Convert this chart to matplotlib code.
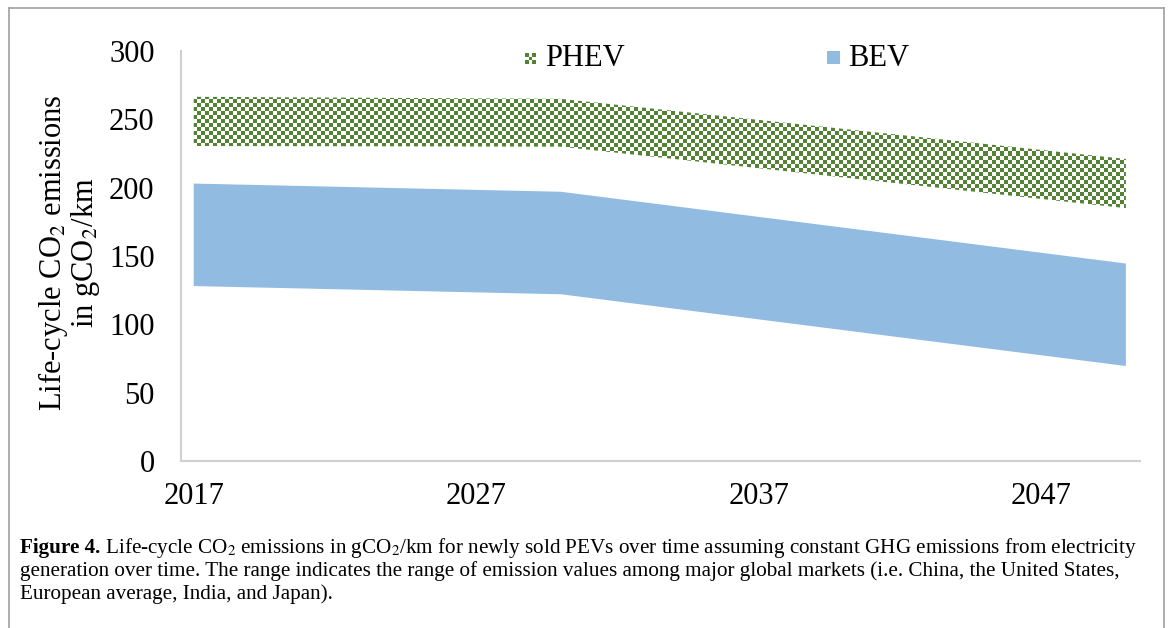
import numpy as np
import matplotlib.pyplot as plt
from matplotlib.lines import Line2D

plt.rcParams['font.family'] = ['Liberation Serif', 'DejaVu Serif']
plt.rcParams['mathtext.fontset'] = 'stix'

# data
years = [2017, 2030, 2050]
bev_low = [128, 122, 69.5]
bev_high = [203, 197, 144.5]
phev_low = [230.5, 230, 185]
phev_high = [266.5, 265, 221]
xticks = [2017, 2027, 2037, 2047]
yticks = [0, 50, 100, 150, 200, 250, 300]

blue = '#92BBE2'
green = '#548235'

W, H = 1168, 628
fig = plt.figure(figsize=(W / 100, H / 100), dpi=100)
ax = fig.add_axes([181 / W, 1 - 461 / H, 959 / W, 410 / H])

ax.fill_between(years, bev_low, bev_high, facecolor=blue, edgecolor='none')

# PHEV: green checkerboard clipped to the band
poly = ax.fill_between(years, phev_low, phev_high, facecolor='none', edgecolor='none')
ny, nx = 410 // 4, 959 // 4
checker = (np.add.outer(np.arange(ny), np.arange(nx)) % 2).astype(float)
cmap = plt.matplotlib.colors.ListedColormap(['white', green])
im = ax.imshow(checker, cmap=cmap, extent=[0, 1, 0, 1], transform=ax.transAxes,
               interpolation='nearest', aspect='auto', zorder=2)
im.set_clip_path(poly.get_paths()[0], ax.transData)

ax.set_xlim(2016.55, 2050.5)
ax.set_ylim(0, 300)
ax.set_xticks(xticks)
ax.set_yticks(yticks)
ax.tick_params(length=0, labelsize=22)
ax.tick_params(axis='x', pad=15)
ax.tick_params(axis='y', pad=19)
for s in ['top', 'right']:
    ax.spines[s].set_visible(False)
for s in ['left', 'bottom']:
    ax.spines[s].set_color('#D0D0D0')
    ax.spines[s].set_linewidth(1.5)

# y label, two centred lines
fig.text(53 / W, 1 - 253 / H, 'Life-cycle CO$_2$ emissions', rotation=90,
         ha='center', va='center', fontsize=22)
fig.text(86 / W, 1 - 253 / H, 'in gCO$_2$/km', rotation=90,
         ha='center', va='center', fontsize=22)

# legend
lax = fig.add_axes([525 / W, 1 - 64 / H, 11 / W, 11 / H])
lax.imshow(1 - np.add.outer(np.arange(3), np.arange(3)) % 2, cmap=cmap,
           interpolation='nearest', aspect='auto')
lax.axis('off')
fig.text(545 / W, 1 - 58 / H, 'PHEV', ha='left', va='center', fontsize=22)
bax = fig.add_axes([827 / W, 1 - 64 / H, 13 / W, 13 / H])
bax.set_facecolor(blue)
bax.set_xticks([])
bax.set_yticks([])
for s in bax.spines.values():
    s.set_visible(False)
fig.text(848 / W, 1 - 58 / H, 'BEV', ha='left', va='center', fontsize=22)

# caption
cs = 15.2
fig.canvas.draw()
r = fig.canvas.get_renderer()
t = fig.text(20 / W, 1 - 553 / H, 'Figure 4.', fontsize=cs, fontweight='bold',
             ha='left', va='baseline')
bb = t.get_window_extent(r)
fig.text(bb.x1 / W, 1 - 553 / H,
         ' Life-cycle CO$_2$ emissions in gCO$_2$/km for newly sold PEVs over time '
         'assuming constant GHG emissions from electricity',
         fontsize=cs, ha='left', va='baseline')
fig.text(20 / W, 1 - 576 / H,
         'generation over time. The range indicates the range of emission values '
         'among major global markets (i.e. China, the United States,',
         fontsize=cs, ha='left', va='baseline')
fig.text(20 / W, 1 - 599 / H, 'European average, India, and Japan).',
         fontsize=cs, ha='left', va='baseline')

# outer frame
fc = '#A0A0A0'
fig.add_artist(Line2D([9 / W, 9 / W], [0, 1 - 8 / H], color=fc, lw=1.2))
fig.add_artist(Line2D([9 / W, 1164 / W], [1 - 8 / H, 1 - 8 / H], color=fc, lw=1.2))
fig.add_artist(Line2D([1164 / W, 1164 / W], [0, 1 - 8 / H], color=fc, lw=1.2))

fig.savefig('out.png', dpi=100)
